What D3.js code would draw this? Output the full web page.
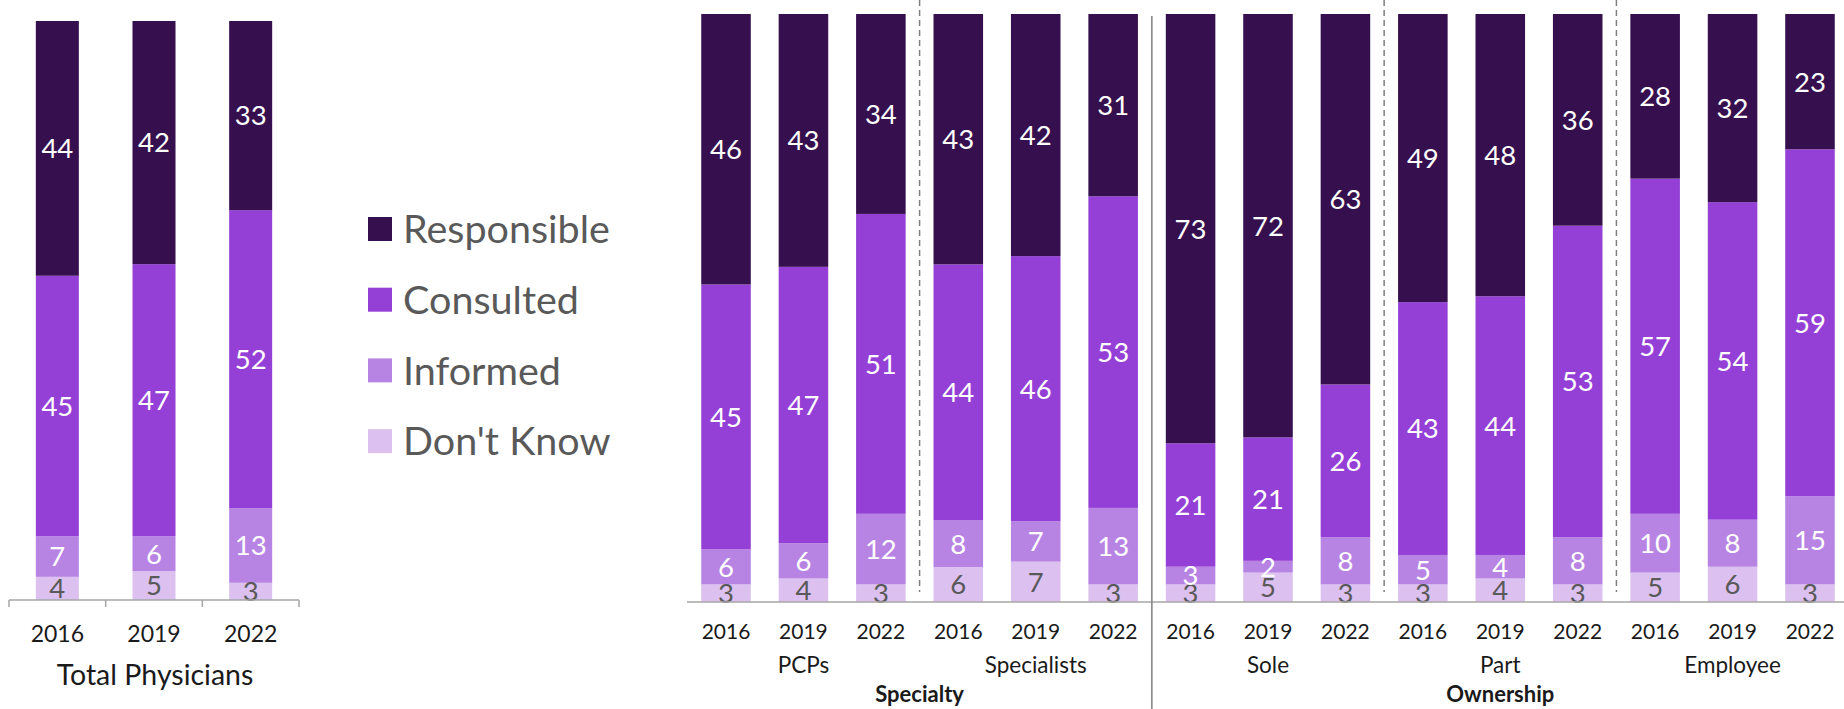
<!DOCTYPE html>
<html>
<head>
<meta charset="utf-8">
<script src="https://cdn.jsdelivr.net/npm/d3@7"></script>
<style>
  html, body { margin: 0; padding: 0; background: #fff; }
  svg { display: block; }
  text { font-family: Lato, "Open Sans", sans-serif; }
</style>
</head>
<body>
<svg id="chart" width="1844" height="709"></svg>
<script>
// ---------- data ----------
const seriesNames = ["Responsible", "Consulted", "Informed", "Don't Know"];
const seriesColors = ["#36104E", "#9440D6", "#B884E4", "#DCC1F0"];
const labelColors = ["#ffffff", "#ffffff", "#ffffff", "#595959"];
const years = ["2016", "2019", "2022"];

// Total physicians
const totalResponsible = [44, 42, 33];
const totalConsulted   = [45, 47, 52];
const totalInformed    = [7, 6, 13];
const totalDontKnow    = [4, 5, 3];

// Breakdown: PCPs, Specialists | Sole, Part, Employee (3 years each)
const groups = ["PCPs", "Specialists", "Sole", "Part", "Employee"];
const superGroups = ["Specialty", "Ownership"];
const superGroupMembers = [[0, 1], [2, 3, 4]];
const grpResponsible = [46, 43, 34, 43, 42, 31, 73, 72, 63, 49, 48, 36, 28, 32, 23];
const grpConsulted   = [45, 47, 51, 44, 46, 53, 21, 21, 26, 43, 44, 53, 57, 54, 59];
const grpInformed    = [6, 6, 12, 8, 7, 13, 3, 2, 8, 5, 4, 8, 10, 8, 15];
const grpDontKnow    = [3, 4, 3, 6, 7, 3, 3, 5, 3, 3, 4, 3, 5, 6, 3];

// ---------- helpers ----------
const svg = d3.select("#chart");

function buildRows(keys, cols) {
  return keys.map((k, i) => {
    const vals = cols.map(c => c[i]);
    const sum = d3.sum(vals);
    const row = { key: k, raw: vals };
    seriesNames.forEach((s, j) => row[s] = vals[j] / sum);
    return row;
  });
}

// stack from bottom: Don't Know, Informed, Consulted, Responsible
const stackOrder = seriesNames.slice().reverse();

function drawStacks(g, rows, x, y) {
  const stack = d3.stack().keys(stackOrder)(rows);
  stack.forEach(layer => {
    const li = seriesNames.indexOf(layer.key);
    const lg = g.append("g");
    lg.selectAll("rect").data(layer).join("rect")
      .attr("x", d => x(d.data.key))
      .attr("width", x.bandwidth())
      .attr("y", d => y(d[1]))
      .attr("height", d => y(d[0]) - y(d[1]))
      .attr("fill", seriesColors[li]);
  });
  stack.forEach(layer => {
    const li = seriesNames.indexOf(layer.key);
    g.append("g").selectAll("text").data(layer).join("text")
      .attr("x", d => x(d.data.key) + x.bandwidth() / 2)
      .attr("y", d => (y(d[0]) + y(d[1])) / 2)
      .attr("dy", "0.36em")
      .attr("text-anchor", "middle")
      .attr("font-size", 27.5)
      .attr("fill", labelColors[li])
      .text(d => d.data.raw[li]);
  });
}

// ---------- left chart: Total Physicians ----------
{
  const rows = buildRows(years, [totalResponsible, totalConsulted, totalInformed, totalDontKnow]);
  const x = d3.scaleBand().domain(years).range([9, 299]).paddingInner(0.555).paddingOuter(0.2775);
  const y = d3.scaleLinear().domain([0, 1]).range([600, 21]);
  const g = svg.append("g");
  drawStacks(g, rows, x, y);

  const axis = d3.axisBottom(x).tickSize(0).tickPadding(0);
  const ag = g.append("g").attr("transform", "translate(0,600)").call(axis);
  ag.select(".domain").remove();
  ag.selectAll("text").attr("font-family", "Lato").attr("font-size", 23)
    .attr("fill", "#1a1a1a").attr("y", 34).attr("dy", "0.36em");
  g.append("line").attr("x1", 9).attr("x2", 299).attr("y1", 600).attr("y2", 600)
    .attr("stroke", "#a6a6a6").attr("stroke-width", 1.5);
  const step = x.step();
  d3.range(years.length + 1).forEach(i => {
    g.append("line").attr("x1", 9 + i * step).attr("x2", 9 + i * step)
      .attr("y1", 600).attr("y2", 607).attr("stroke", "#a6a6a6").attr("stroke-width", 1.5);
  });
  g.append("text").attr("x", 155).attr("y", 675).attr("dy", "0.36em")
    .attr("text-anchor", "middle").attr("font-size", 28.5).attr("fill", "#1a1a1a")
    .text("Total Physicians");
}

// ---------- legend ----------
{
  const lg = svg.append("g");
  seriesNames.forEach((s, i) => {
    const cy = 229 + i * 70.7;
    lg.append("rect").attr("x", 368).attr("y", cy - 12).attr("width", 24).attr("height", 24)
      .attr("fill", seriesColors[i]);
    lg.append("text").attr("x", 403).attr("y", cy).attr("dy", "0.36em")
      .attr("font-size", 39.5).attr("fill", "#595959").text(s);
  });
}

// ---------- right chart: breakdown ----------
{
  const keys = groups.flatMap(gr => years.map(yr => gr + "|" + yr));
  const rows = buildRows(keys, [grpResponsible, grpConsulted, grpInformed, grpDontKnow]);
  const x = d3.scaleBand().domain(keys).range([687.3, 1848.7]).paddingInner(0.36).paddingOuter(0.18);
  const y = d3.scaleLinear().domain([0, 1]).range([602, 14]);
  const g = svg.append("g");
  drawStacks(g, rows, x, y);

  g.append("line").attr("x1", 687).attr("x2", 1844).attr("y1", 602).attr("y2", 602)
    .attr("stroke", "#a6a6a6").attr("stroke-width", 1.5);

  // year tick labels
  const axis = d3.axisBottom(x).tickSize(0).tickPadding(0).tickFormat(k => k.split("|")[1]);
  const ag = g.append("g").attr("transform", "translate(0,602)").call(axis);
  ag.select(".domain").remove();
  ag.selectAll("text").attr("font-family", "Lato").attr("font-size", 21)
    .attr("fill", "#1a1a1a").attr("y", 29).attr("dy", "0.36em");

  const center = k => x(k) + x.bandwidth() / 2;
  // group labels
  groups.forEach(gr => {
    g.append("text").attr("x", center(gr + "|2019")).attr("y", 665).attr("dy", "0.36em")
      .attr("text-anchor", "middle").attr("font-size", 22.5).attr("fill", "#1a1a1a").text(gr);
  });
  // super group labels
  superGroups.forEach((sg, i) => {
    const mem = superGroupMembers[i];
    const first = groups[mem[0]] + "|2016";
    const last = groups[mem[mem.length - 1]] + "|2022";
    const cx = (x(first) + x(last) + x.bandwidth()) / 2;
    g.append("text").attr("x", cx).attr("y", 694).attr("dy", "0.36em")
      .attr("text-anchor", "middle").attr("font-size", 22).attr("font-weight", "bold")
      .attr("fill", "#1a1a1a").text(sg);
  });

  // separators
  const boundary = idx => (x(keys[idx - 1]) + x.bandwidth() + x(keys[idx])) / 2;
  [3, 9, 12].forEach(idx => {
    g.append("line").attr("x1", boundary(idx)).attr("x2", boundary(idx))
      .attr("y1", 0).attr("y2", 592).attr("stroke", "#7f7f7f").attr("stroke-width", 1.5)
      .attr("stroke-dasharray", "6,4");
  });
  g.append("line").attr("x1", boundary(6)).attr("x2", boundary(6))
    .attr("y1", 16).attr("y2", 709).attr("stroke", "#7f7f7f").attr("stroke-width", 1.5);
}
</script>
</body>
</html>
